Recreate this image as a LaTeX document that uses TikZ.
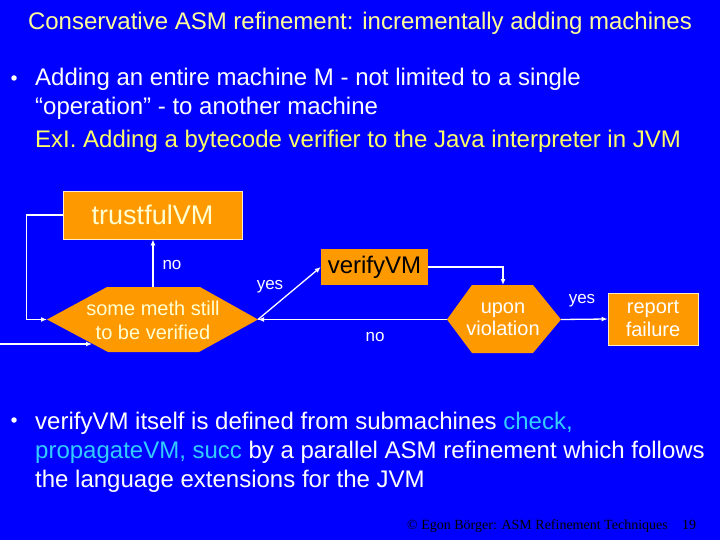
\documentclass[tikz,border=0pt]{standalone}
\usepackage{fontspec}
\setmainfont{Liberation Sans}
\newfontfamily\footfont{Liberation Serif}
\usetikzlibrary{arrows.meta}
\definecolor{bg}{RGB}{0,0,255}
\definecolor{orng}{RGB}{255,153,0}
\definecolor{ltyel}{RGB}{255,255,153}
\definecolor{yel}{RGB}{255,255,102}
\definecolor{cyn}{RGB}{51,204,255}
\definecolor{cream}{RGB}{255,255,210}
\begin{document}
\begin{tikzpicture}[x=1pt,y=-1pt,
  txt/.style={inner sep=0pt,anchor=base west,font=\fontsize{24}{28}\selectfont},
  conn/.style={draw=white,line width=1.3pt,-{Latex[length=6pt,width=5pt]}},
  box/.style={fill=orng,draw=white!80!orng,line width=0.8pt,inner sep=0pt},
  hexfill/.style={fill=orng},
  lbl/.style={text=white,font=\fontsize{17}{17}\selectfont,inner sep=0pt},
  bul/.style={fill=white,draw=none,circle,inner sep=0pt,minimum size=5.5pt}]
\fill[bg] (0,0) rectangle (720,540);
\useasboundingbox (0,0) rectangle (720,540);

% title
\node[inner sep=0pt,anchor=base,text=ltyel,font=\fontsize{24}{28}\selectfont] (title) at (360,30)
  {Conservative ASM refinement: incrementally adding machines};

% first bullet
\node[bul] (b1) at (14,78) {};
\node[txt,text=white] (l1) at (35,86) {Adding an entire machine M - not limited to a single};
\node[txt,text=white] (l2) at (35,115) {“operation” - to another machine};
\node[txt,text=yel] (l3) at (35,148) {ExI. Adding a bytecode verifier to the Java interpreter in JVM};

% boxes
\node[box,minimum width=179pt,minimum height=48pt,text=cream,font=\fontsize{27}{27}\selectfont] (trust) at (152.5,215) {trustfulVM};
\node[fill=orng,inner sep=0pt,minimum width=107pt,minimum height=36pt,text=black,font=\fontsize{24}{24}\selectfont] (verify) at (374.5,267) {verifyVM};
\node[box,minimum width=90pt,minimum height=52pt,text=white,align=center,font=\fontsize{20}{23}\selectfont] (report) at (653,319) {report\\failure};

% hexagon 1
\coordinate (h1w) at (47,319.5);
\coordinate (h1e) at (258,319.5);
\coordinate (h1n) at (153,287);
\coordinate (h1in) at (92,344);
\fill[orng] (h1w) -- (107,287) -- (200,287) -- (h1e) -- (199,352) -- (108,352) -- cycle;
\node[inner sep=0pt,align=center,text=cream,font=\fontsize{20}{24}\selectfont] (h1) at (153,320) {some meth still\\to be verified};

% hexagon 2
\coordinate (h2w) at (447,319.5);
\coordinate (h2e) at (561,319.5);
\coordinate (h2n) at (503,285);
\fill[orng] (h2w) -- (472,285) -- (533,285) -- (h2e) -- (533,353) -- (472,353) -- cycle;
\node[inner sep=0pt,align=center,text=white,font=\fontsize{20}{22}\selectfont] (h2) at (503,319) {upon\\violation};

% connectors
\coordinate (entry) at (0,344);
\draw[conn] (entry) -- (h1in);
\draw[conn] (trust.west) -- ++(-36,0) |- (h1w);
\draw[conn] (h1n) -- (h1n |- trust.south);
\draw[conn] (h1e) -- (verify.west);
\draw[conn] (h2w) -- (h1e);
\draw[conn] (verify.east) -| (h2n);
\draw[conn] (h2e) -- (report.west);

% labels
\node[lbl] (no1) at (172,265) {no};
\node[lbl] (yes1) at (270,287) {yes};
\node[lbl] (yes2) at (582,301) {yes};
\node[lbl] (no2) at (375,337) {no};

% second bullet
\node[bul] (b2) at (14,420) {};
\node[txt,text=white] (m1) at (35,429) {verifyVM itself is defined from submachines \textcolor{cyn}{check,}};
\node[txt,text=white] (m2) at (35,458) {\textcolor{cyn}{propagateVM, succ} by a parallel ASM refinement which follows};
\node[txt,text=white] (m3) at (35,487) {the language extensions for the JVM};

% footer
\node[inner sep=0pt,anchor=base west,text=black,font=\footfont\fontsize{14}{14}\selectfont] (foot) at (407,529) {© Egon Börger: ASM Refinement Techniques};
\node[inner sep=0pt,anchor=base west,text=black,font=\footfont\fontsize{14}{14}\selectfont] (pg) at (682,529) {19};
\end{tikzpicture}
\end{document}
